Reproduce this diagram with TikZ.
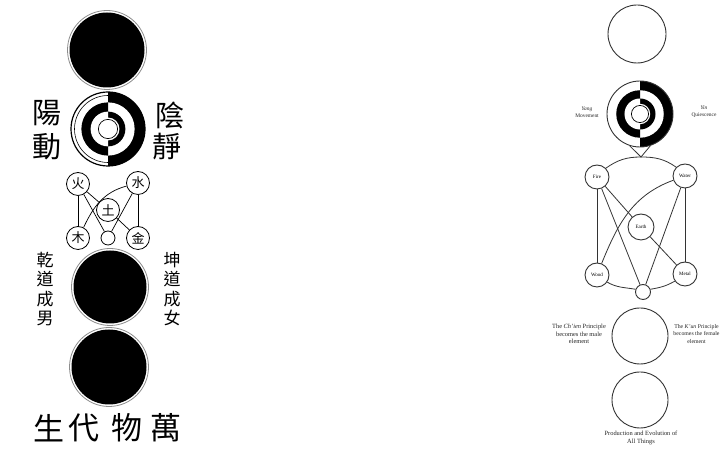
\documentclass[tikz,border=0pt]{standalone}
\usepackage{fontspec}
\setmainfont{Liberation Serif}
\newfontfamily\cjk{Noto Sans CJK TC}
\tikzset{
  pics/kanli/.style={code={
    \fill[white] (0,0) circle (1);
    \fill[black] (-90:1) arc[start angle=-90,end angle=90,radius=1] -- cycle;
    \fill[white] (-90:0.72) arc[start angle=-90,end angle=90,radius=0.72] -- cycle;
    \fill[black] (-90:0.47) arc[start angle=-90,end angle=90,radius=0.47] -- cycle;
    \fill[black] (90:0.72) arc[start angle=90,end angle=270,radius=0.72] -- cycle;
    \fill[white] (90:0.47) arc[start angle=90,end angle=270,radius=0.47] -- cycle;
    \fill[white] (0,0) circle (0.31);
    \draw[line width=0.7pt] (0,0) circle (0.26);
  }},
  blackdisc/.style={circle, fill=black, inner sep=0pt, minimum size=#1},
  cjkelem/.style={circle, draw=black, line width=0.8pt, fill=white, inner sep=0pt, minimum size=23pt, font=\cjk\fontsize{13}{13}\selectfont},
  cjkline/.style={draw=black, line width=0.7pt},
  engcirc/.style={circle, draw=black!80, line width=0.9pt, inner sep=0pt, minimum size=#1},
  engelem/.style={circle, draw=black!80, line width=0.9pt, fill=white, inner sep=0pt, minimum size=24pt, font=\fontsize{5}{5}\selectfont},
  engline/.style={draw=black!80, line width=0.8pt},
  biglabel/.style={font=\cjk\fontsize{29}{29}\selectfont, inner sep=0pt},
  vlabel/.style={font=\cjk\fontsize{17}{19.5}\selectfont, align=center, inner sep=0pt},
  bottomlabel/.style={font=\cjk\fontsize{31}{31}\selectfont, inner sep=0pt},
  smalltext/.style={font=\fontsize{6.4}{7.6}\selectfont, align=center, inner sep=0pt, text=black!85},
  tinytext/.style={font=\fontsize{5.4}{7}\selectfont, align=center, inner sep=0pt, text=black!85}
}
\begin{document}
\begin{tikzpicture}[x=1pt,y=1pt]
\useasboundingbox (0,0) rectangle (720,462);
\fill[white] (0,0) rectangle (720,462);

% ================= Chinese diagram =================
\node[blackdisc=75pt] (c1) at (107,412) {};
\draw[black!45, line width=0.8pt] (c1.center) circle (39.5);

\begin{scope}[shift={(108,333)}]
  \pic[scale=37] {kanli};
\end{scope}
\node[circle, minimum size=74pt, inner sep=0pt, draw=black, line width=1.2pt] (ctaiji) at (108,333) {};
\draw[line width=0.6pt] (ctaiji.center) ++(90:33.5) arc[start angle=90,end angle=270,radius=33.5];

\node[biglabel] (yang) at (47,349) {陽};
\node[biglabel] (dong) at (47,315) {動};
\node[biglabel] (yin) at (170,347) {陰};
\node[biglabel] (jing) at (167,315) {靜};

\node[cjkelem] (huo) at (78,278) {火};
\node[cjkelem] (shui) at (138,279) {水};
\node[cjkelem] (tu) at (108,252) {土};
\node[cjkelem] (mu) at (78,224) {木};
\node[cjkelem] (jin) at (138,224) {金};
\node[circle, draw=black, line width=0.8pt, fill=white, inner sep=0pt, minimum size=14pt] (cs) at (108,224) {};

\path[cjkline] (huo) -- (mu);
\path[cjkline] (shui) -- (jin);
\path[cjkline] (huo) -- (cs);
\path[cjkline] (huo) -- (tu);
\path[cjkline] (tu) -- (jin);
\path[cjkline] (shui) -- (cs);
\path[cjkline] (shui.195) to[out=195,in=65] (mu.62);

\node[blackdisc=73pt] (c2) at (110,175) {};
\draw[black!45, line width=0.8pt] (c2.center) circle (38.5);
\node[blackdisc=75pt] (c3) at (109,95) {};
\draw[black!45, line width=0.8pt] (c3.center) circle (39.5);

\node[vlabel] (qian) at (45,173) {乾\\道\\成\\男};
\node[vlabel] (kun) at (172,173) {坤\\道\\成\\女};

\node[bottomlabel] (b1) at (49,34) {生};
\node[bottomlabel] (b2) at (84,34) {代};
\node[bottomlabel] (b3) at (127,34) {物};
\node[bottomlabel] (b4) at (166,34) {萬};

% ================= English diagram =================
\node[engcirc=58pt] (e1) at (637,428) {};

\begin{scope}[shift={(640,348)}]
  \pic[scale=33] {kanli};
\end{scope}
\node[engcirc=66pt] (etaiji) at (640,348) {};

\node[tinytext] (lyang) at (587,350) {\textit{Yang}\\Movement};
\node[tinytext] (lyin) at (704,350) {\textit{Yin}\\Quiescence};

\node[engelem] (fire) at (597,285) {Fire};
\node[engelem] (water) at (685,286) {Water};
\node[engelem, minimum size=26pt] (earth) at (641,235) {Earth};
\node[engelem] (wood) at (597,187) {Wood};
\node[engelem] (metal) at (685,188) {Metal};
\node[circle, draw=black!80, line width=0.9pt, fill=white, inner sep=0pt, minimum size=15pt] (es) at (643,170) {};
\coordinate (apex) at (641,305);

\path[engline] (etaiji.252) -- (apex) -- (etaiji.288);
\path[engline] (fire.45) to[out=35,in=180] (apex) to[out=0,in=145] (water.135);
\path[engline] (wood.-35) to[out=-30,in=170] (es.160);
\path[engline] (es.20) to[out=10,in=-150] (metal.215);
\path[engline] (fire) -- (wood);
\path[engline] (water) -- (metal);
\path[engline] (fire) -- (es);
\path[engline] (fire) -- (earth);
\path[engline] (earth) -- (metal);
\path[engline] (water) -- (es);
\path[engline] (water.200) to[out=200,in=68] (wood.68);

\node[engcirc=56pt] (e2) at (640,126) {};
\node[engcirc=56pt] (e3) at (640,62) {};

\node[smalltext] (lqian) at (579,128) {The \textit{Ch'ien} Principle\\becomes the male\\element};
\node[smalltext, font=\fontsize{5.8}{7.6}\selectfont] (lkun) at (696.5,128) {The \textit{K'un} Principle\\becomes the female\\element};
\node[smalltext] (lprod) at (641,24) {Production and Evolution of\\All Things};
\end{tikzpicture}
\end{document}
